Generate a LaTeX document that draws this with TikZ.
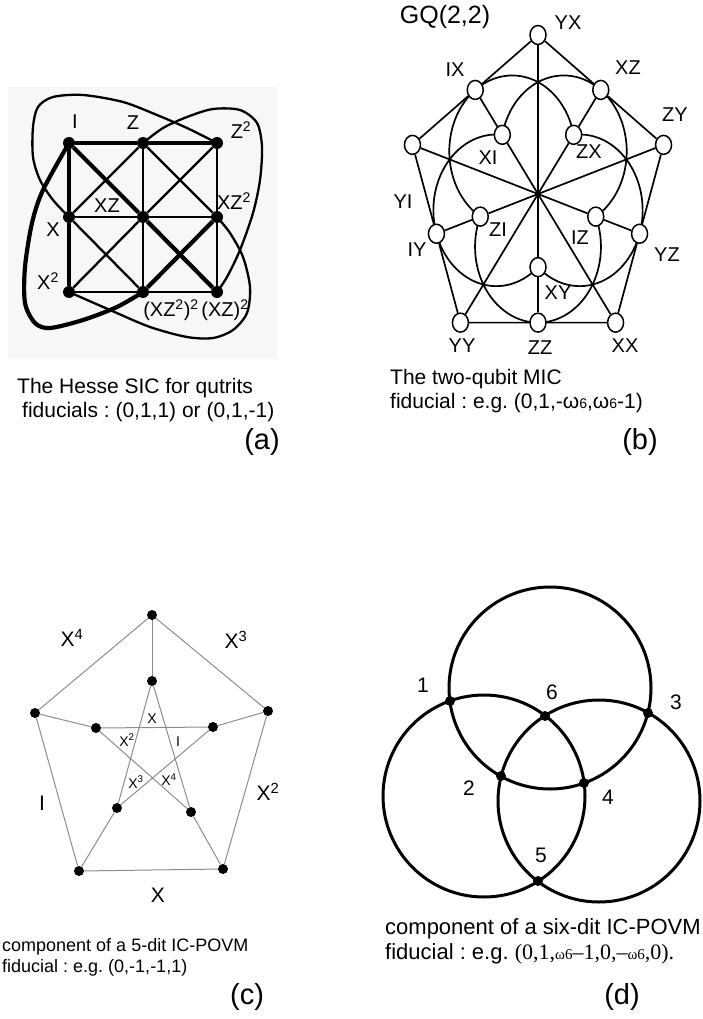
\documentclass[tikz,border=0pt]{standalone}
\usepackage{fontspec}
\setmainfont{Liberation Sans}
\newfontfamily\timesfont{Liberation Serif}
\usetikzlibrary{shapes.geometric}
\frenchspacing

\newcommand{\lowsix}{{\fontsize{14}{16}\selectfont 6}}
\newcommand{\omsix}{{\fontsize{15}{18}\selectfont ω6}}

\begin{document}
\begin{tikzpicture}[x=1pt, y=-1pt,
  qdot/.style={circle, fill=black, inner sep=0pt, minimum size=12pt},
  pdot/.style={circle, fill=black, inner sep=0pt, minimum size=10pt},
  vdot/.style={circle, fill=black, inner sep=0pt, minimum size=10pt},
  gqnode/.style={ellipse, draw, fill=white, line width=1.5pt, inner sep=0pt,
    minimum width=16pt, minimum height=19pt},
  hesseheavy/.style={line width=4.2pt},
  hesselight/.style={line width=2.3pt},
  gqline/.style={line width=1.7pt},
  petline/.style={line width=1pt, black!45},
  venn/.style={line width=3pt},
  lbl/.style={inner sep=0pt, font=\fontsize{20}{23}\selectfont},
  lblsmall/.style={inner sep=0pt, font=\fontsize{14}{16}\selectfont},
  lblbig/.style={inner sep=0pt, font=\fontsize{21}{24}\selectfont},
  caption/.style={anchor=west, inner sep=0pt, font=\fontsize{21}{24}\selectfont},
  tag/.style={inner sep=0pt, font=\fontsize{29}{33}\selectfont}]

  \useasboundingbox (0,0) rectangle (703,1019);

  % ---------------- (a) Hesse configuration ----------------
  \fill[black!3] (8,87) rectangle (277,359);
  \foreach \n/\x/\y in {qI/69/143, qZ/143/143, qZZ/217/143,
                        qX/69/217, qXZ/143/217, qXZb/217/217,
                        qXX/69/292, qXZbb/143/292, qXZZ/217/292}
    \node[qdot] (\n) at (\x,\y) {};

  % lines through I
  \draw[hesseheavy] (qI) -- (qZ) -- (qZZ);
  \draw[hesseheavy] (qI) -- (qX) -- (qXX);
  \draw[hesseheavy] (qI) -- (qXZ) -- (qXZZ);
  \draw[hesseheavy] (qXZbb) -- (qXZb);
  \draw[hesseheavy] plot[smooth] coordinates {(qI.center) (43,190) (32,223) (25,267)
    (25,303) (35,323) (50,328) (83,320) (117,307) (qXZbb.center)};

  % remaining lines
  \draw[hesselight] (qX) -- (qXZ) -- (qXZb);
  \draw[hesselight] (qXX) -- (qXZbb) -- (qXZZ);
  \draw[hesselight] (qZ) -- (qXZ) -- (qXZbb);
  \draw[hesselight] (qZZ) -- (qXZb) -- (qXZZ);
  \draw[hesselight] (qZZ) -- (qXZ) -- (qXX);
  \draw[hesselight] (qZ) -- (qXZb);
  \draw[hesselight] (qX) -- (qXZbb);
  \draw[hesselight] (qZ) -- (qX);
  \draw[hesselight] plot[smooth] coordinates {(qZZ.center) (187,128) (157,115) (123,102)
    (83,95) (53,97) (38,107) (33,127) (33,157) (40,180) (53,200) (qX.center)};
  \draw[hesselight] plot[smooth] coordinates {(qZ.center) (163,128) (187,117) (213,109)
    (240,110) (257,123) (262,147) (260,180) (253,213) (240,250) (227,277) (qXZZ.center)};
  \draw[hesselight] plot[smooth] coordinates {(qXZb.center) (230,233) (243,257) (250,287)
    (247,313) (233,330) (213,338) (187,337) (150,327) (110,310) (qXX.center)};

  \node[lbl] (tI) at (75,122) {I};
  \node[lbl] (tZ) at (133,123) {Z};
  \node[lbl] (tZZ) at (241,130) {Z\textsuperscript{2}};
  \node[lbl] (tXZ) at (107,206) {XZ};
  \node[lbl] (tXZb) at (234,201) {XZ\textsuperscript{2}};
  \node[lbl] (tX) at (53,230) {X};
  \node[lbl] (tXX) at (48,281) {X\textsuperscript{2}};
  \node[lbl] (tXZbb) at (171,310) {(XZ\textsuperscript{2})\textsuperscript{2}};
  \node[lbl] (tXZZ) at (225,310) {(XZ)\textsuperscript{2}};

  \node[caption] (capa1) at (17,388) {The Hesse SIC for qutrits};
  \node[caption] (capa2) at (22,412) {fiducials : (0,1,1) or (0,1,-1)};
  \node[tag] (taga) at (262,442) {(a)};

  % ---------------- (b) the doily GQ(2,2) ----------------
  \node[inner sep=0pt, font=\fontsize{25}{28}\selectfont] (gq) at (445,17) {GQ(2,2)};
  \begin{scope}[shift={(538,194)}, x=132pt, y=159pt]
    % curved lines
    \foreach \a in {126,54,-18,-90,198}{
      \pgfmathsetmacro\ta{\a-113.5}
      \pgfmathsetmacro\tb{\a+113.5}
      \draw[gqline] plot[domain=\ta:\tb, samples=60, variable=\t]
        ({0.332*cos(\a)+0.477*cos(\t)}, {0.332*sin(\a)+0.477*sin(\t)});
    }
    % points
    \foreach \n/\a in {YX/90, ZY/18, XX/-54, YY/-126, YI/162}
      \node[gqnode] (\n) at (\a:1) {};
    \foreach \n/\a in {XZ/54, YZ/-18, ZZ/-90, IY/198, IX/126}
      \node[gqnode] (\n) at (\a:0.809) {};
    \foreach \n/\a in {ZX/54, IZ/-18, XY/-90, ZI/198, XI/126}
      \node[gqnode] (\n) at (\a:0.46) {};
    % straight lines
    \draw[gqline] (YX) -- (XZ) -- (ZY) -- (YZ) -- (XX) -- (ZZ) -- (YY)
      -- (IY) -- (YI) -- (IX) -- (YX);
    \foreach \a/\b/\c in {YX/XY/ZZ, XX/XI/IX, ZY/ZI/IY, YI/IZ/YZ, YY/ZX/XZ}
      \draw[gqline] (\a) -- (\b) -- (\c);
  \end{scope}

  \node[lbl] (tYX) at (568,23) {YX};
  \node[lbl] (tIX) at (455,70) {IX};
  \node[lbl] (tXZb) at (628,68) {XZ};
  \node[lbl] (tZY) at (675,115) {ZY};
  \node[lbl] (tXI) at (488,158) {XI};
  \node[lbl] (tZX) at (589,152) {ZX};
  \node[lbl] (tYI) at (403,202) {YI};
  \node[lbl] (tZI) at (498,230) {ZI};
  \node[lbl] (tIZ) at (580,238) {IZ};
  \node[lbl] (tIY) at (417,250) {IY};
  \node[lbl] (tYZ) at (667,255) {YZ};
  \node[lbl] (tXY) at (558,293) {XY};
  \node[lbl] (tYY) at (462,346) {YY};
  \node[lbl] (tZZb) at (540,348) {ZZ};
  \node[lbl] (tXXb) at (625,346) {XX};

  \node[caption] (capb1) at (390,379) {The two-qubit MIC};
  \node[caption] (capb2) at (390,403) {fiducial : e.g. (0,1,-ω\lowsix,ω\lowsix-1)};
  \node[tag] (tagb) at (640,442) {(b)};

  % ---------------- (c) Petersen graph ----------------
  \foreach \n/\x/\y in {pA/152/615, pB/268/711, pC/223/869, pD/79/871, pE/35/713,
                        pa/152/681, pb/213/727, pc/191/812, pd/117/808, pe/96/728}
    \node[pdot] (\n) at (\x,\y) {};
  \draw[petline] (pA) -- (pB) -- (pC) -- (pD) -- (pE) -- (pA);
  \draw[petline] (pa) -- (pc) -- (pe) -- (pb) -- (pd) -- (pa);
  \foreach \u/\v in {pA/pa, pB/pb, pC/pc, pD/pd, pE/pe}
    \draw[petline] (\u) -- (\v);

  \node[lblbig] (tX4) at (72,638) {X\textsuperscript{4}};
  \node[lblbig] (tX3) at (236,640) {X\textsuperscript{3}};
  \node[lblbig] (tIo) at (42,803) {I};
  \node[lblbig] (tX2) at (268,792) {X\textsuperscript{2}};
  \node[lblbig] (tXo) at (158,895) {X};
  \node[lblsmall] (sX) at (152,719) {X};
  \node[lblsmall] (sX2) at (127,740) {X\textsuperscript{2}};
  \node[lblsmall] (sI) at (178,742) {I};
  \node[lblsmall] (sX3) at (136,782) {X\textsuperscript{3}};
  \node[lblsmall] (sX4) at (169,780) {X\textsuperscript{4}};

  \node[caption, font=\fontsize{18}{21}\selectfont] (capc1) at (2,947) {component of a 5-dit IC-POVM};
  \node[caption, font=\fontsize{18}{21}\selectfont] (capc2) at (2,968) {fiducial : e.g. (0,-1,-1,1)};
  \node[tag] (tagc) at (247,997) {(c)};

  % ---------------- (d) three circles ----------------
  \draw[venn] (550,688) circle[radius=101pt];
  \draw[venn] (484,796) circle[radius=101pt];
  \draw[venn] (599,801) circle[radius=101pt];
  \foreach \n/\x/\y in {v1/450/701, v2/501/776, v3/648/713, v4/584/783, v5/538/881, v6/545/716}
    \node[vdot] (\n) at (\x,\y) {};
  \node[lblbig] (t1) at (423,685) {1};
  \node[lblbig] (t6) at (552,692) {6};
  \node[lblbig] (t3) at (676,702) {3};
  \node[lblbig] (t2) at (469,788) {2};
  \node[lblbig] (t4) at (608,797) {4};
  \node[lblbig] (t5) at (541,855) {5};

  \node[caption, font=\fontsize{22}{25}\selectfont] (capd1) at (385,929) {component of a six-dit IC-POVM};
  \node[caption, font=\fontsize{22}{25}\selectfont] (capd2) at (385,954) {fiducial : e.g. {\timesfont (0,1,\omsix–1,0,–\omsix,0).}};
  \node[tag] (tagd) at (622,997) {(d)};
\end{tikzpicture}
\end{document}
